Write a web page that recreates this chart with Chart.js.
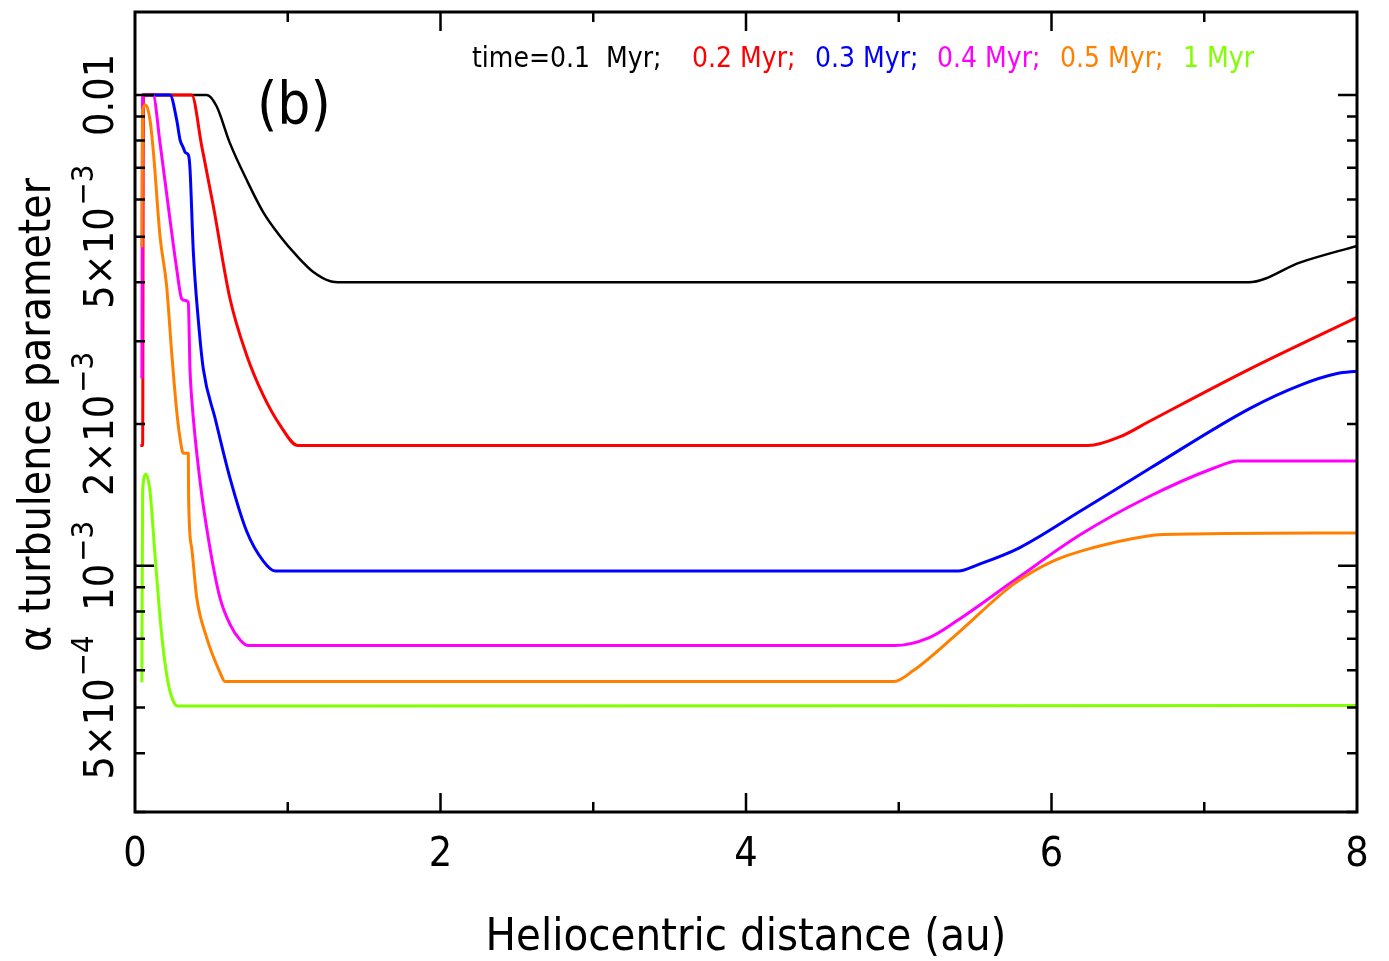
<!DOCTYPE html>
<html>
<head>
<meta charset="utf-8">
<script src="https://cdn.jsdelivr.net/npm/chart.js@4/dist/chart.umd.min.js"></script>
<style>
  body { margin: 0; background: #fff; }
  canvas { display: block; }
</style>
</head>
<body>
<canvas id="myChart" width="1389" height="961"></canvas>
<script>
// dados (x em au, y = alpha)
const series = ['time=0.1  Myr;', '0.2 Myr;', '0.3 Myr;', '0.4 Myr;', '0.5 Myr;', '1 Myr'];
const colors = ['#000000', '#ff0000', '#0000ff', '#ff00ff', '#ff8000', '#80ff00'];

const xBlack = [0.045, 0.47, 0.535, 0.62, 0.73, 0.84, 0.95, 1.06, 1.17, 1.28, 1.35, 7.29, 7.63, 8.0];
const yBlack = [0.01, 0.01, 9.45e-3, 7.92e-3, 6.61e-3, 5.63e-3, 5.01e-3, 4.55e-3, 4.2e-3, 4.02e-3, 4.0e-3, 4.0e-3, 4.41e-3, 4.78e-3];

const xRed = [0.035, 0.05, 0.055, 0.371, 0.437, 0.513, 0.622, 0.731, 0.84, 0.949, 1.067, 6.24, 6.45, 6.645, 7.30, 8.0];
const yRed = [1.8e-3, 1.8e-3, 0.01, 0.01, 7.78e-3, 5.8e-3, 3.69e-3, 2.8e-3, 2.3e-3, 1.99e-3, 1.8e-3, 1.8e-3, 1.88e-3, 2.03e-3, 2.62e-3, 3.37e-3];

const xBlue = [0.045, 0.229, 0.273, 0.295, 0.316, 0.33, 0.35, 0.36, 0.382, 0.414, 0.447, 0.524, 0.622, 0.731, 0.84, 0.917, 5.39, 5.52, 5.79, 6.19, 6.645, 7.30, 7.63, 7.87, 8.0];
const yBlue = [0.01, 0.01, 8.85e-3, 8.03e-3, 7.73e-3, 7.54e-3, 7.45e-3, 6.97e-3, 4.63e-3, 3.34e-3, 2.62e-3, 2.06e-3, 1.535e-3, 1.184e-3, 1.023e-3, 0.975e-3, 0.975e-3, 1.006e-3, 1.092e-3, 1.307e-3, 1.611e-3, 2.16e-3, 2.42e-3, 2.56e-3, 2.59e-3];

const xMagenta = [0.045, 0.05, 0.118, 0.164, 0.229, 0.273, 0.306, 0.33, 0.349, 0.36, 0.371, 0.426, 0.491, 0.556, 0.622, 0.69, 0.742, 4.97, 5.2, 5.38, 5.75, 6.19, 6.62, 7.06, 7.22, 8.0];
const yMagenta = [2.5e-3, 0.01, 0.01, 7.9e-3, 5.44e-3, 4.27e-3, 3.69e-3, 3.66e-3, 3.62e-3, 2.62e-3, 2.27e-3, 1.51e-3, 1.09e-3, 8.56e-4, 7.51e-4, 6.95e-4, 6.77e-4, 6.77e-4, 7.04e-4, 7.64e-4, 9.28e-4, 1.165e-3, 1.393e-3, 1.611e-3, 1.67e-3, 1.67e-3];

const xOrange = [0.045, 0.05, 0.07, 0.096, 0.12, 0.164, 0.207, 0.24, 0.273, 0.295, 0.316, 0.349, 0.351, 0.371, 0.404, 0.469, 0.556, 0.589, 4.97, 5.095, 5.38, 5.75, 6.01, 6.27, 6.62, 6.73, 8.0];
const yOrange = [4.75e-3, 9.3e-3, 9.52e-3, 8.94e-3, 7.6e-3, 5.0e-3, 3.93e-3, 2.84e-3, 2.13e-3, 1.865e-3, 1.734e-3, 1.734e-3, 1.39e-3, 1.092e-3, 8.56e-4, 7.04e-4, 5.94e-4, 5.68e-4, 5.68e-4, 5.99e-4, 7.16e-4, 9.13e-4, 1.023e-3, 1.092e-3, 1.156e-3, 1.165e-3, 1.174e-3];

const xGreen = [0.045, 0.05, 0.072, 0.098, 0.13, 0.17, 0.21, 0.245, 0.28, 8.0];
const yGreen = [5.66e-4, 1.45e-3, 1.565e-3, 1.44e-3, 1.065e-3, 7.39e-4, 5.8e-4, 5.21e-4, 5.04e-4, 5.05e-4];

// eixos
const xTickValues = [0, 2, 4, 6, 8];
const yTickValues = [5e-4, 1e-3, 2e-3, 5e-3, 0.01];
const yTickLabels = [['5×10', '−4'], ['10', '−3'], ['2×10', '−3'], ['5×10', '−3'], ['0.01', '']];
const xTitle = 'Heliocentric distance (au)';
const yTitle = 'α turbulence parameter';
const panelLabel = '(b)';

const allX = [xBlack, xRed, xBlue, xMagenta, xOrange, xGreen];
const allY = [yBlack, yRed, yBlue, yMagenta, yOrange, yGreen];

const FONT = '"DejaVu Sans Condensed", "DejaVu Sans", sans-serif';

function pontos(xs, ys) {
    return xs.map((x, i) => ({ x: x, y: ys[i] }));
}

// desenha eixos, marcas internas e textos no estilo PGPLOT
const molduraPlugin = {
    id: 'moldura',
    afterDraw(chart) {
        const ctx = chart.ctx;
        const a = chart.chartArea;
        const xs = chart.scales.x;
        const ys = chart.scales.y;
        ctx.save();
        ctx.strokeStyle = '#000';
        ctx.fillStyle = '#000';

        // marcas do eixo x (maiores nos pares)
        ctx.lineWidth = 2.5;
        for (let v = 1; v < 8; v++) {
            const px = xs.getPixelForValue(v);
            const len = v % 2 === 0 ? 19 : 10;
            ctx.beginPath();
            ctx.moveTo(px, a.bottom); ctx.lineTo(px, a.bottom - len);
            ctx.moveTo(px, a.top); ctx.lineTo(px, a.top + len);
            ctx.stroke();
        }
        // marcas do eixo y (log)
        for (let e = -4; e <= -2; e++) {
            for (let k = 1; k <= 9; k++) {
                const v = k * Math.pow(10, e);
                if (v < ys.min || v > ys.max) continue;
                const py = ys.getPixelForValue(v);
                const len = k === 1 ? 19 : 10;
                ctx.beginPath();
                ctx.moveTo(a.left, py); ctx.lineTo(a.left + len, py);
                ctx.moveTo(a.right, py); ctx.lineTo(a.right - len, py);
                ctx.stroke();
            }
        }
        // moldura
        ctx.lineWidth = 3;
        ctx.strokeRect(a.left, a.top, a.right - a.left, a.bottom - a.top);

        // rótulos do eixo x
        ctx.font = '41px ' + FONT;
        ctx.textAlign = 'center';
        ctx.textBaseline = 'alphabetic';
        xTickValues.forEach(v => {
            ctx.fillText(String(v), xs.getPixelForValue(v), 866);
        });
        ctx.font = '45px ' + FONT;
        ctx.fillText(xTitle, (a.left + a.right) / 2, 950);

        // rótulos do eixo y, girados
        const size = 41;
        yTickValues.forEach((v, i) => {
            const base = yTickLabels[i][0];
            const exp = yTickLabels[i][1];
            ctx.save();
            ctx.translate(113, ys.getPixelForValue(v));
            ctx.rotate(-Math.PI / 2);
            ctx.font = size + 'px ' + FONT;
            const w1 = ctx.measureText(base).width;
            ctx.font = (size * 0.75) + 'px ' + FONT;
            const w2 = exp ? ctx.measureText(exp).width + 2 : 0;
            const start = -(w1 + w2) / 2;
            ctx.textAlign = 'left';
            ctx.font = size + 'px ' + FONT;
            ctx.fillText(base, start, 0);
            if (exp) {
                ctx.font = (size * 0.75) + 'px ' + FONT;
                ctx.fillText(exp, start + w1 + 2, -size * 0.5);
            }
            ctx.restore();
        });
        ctx.save();
        ctx.translate(50, 415);
        ctx.rotate(-Math.PI / 2);
        ctx.textAlign = 'center';
        ctx.font = '44px ' + FONT;
        ctx.fillText(yTitle, 0, 0);
        ctx.restore();

        // legenda em texto colorido
        const starts = [472, 692, 815, 937, 1060, 1183];
        ctx.font = '28px ' + FONT;
        ctx.textAlign = 'left';
        series.forEach((s, i) => {
            ctx.fillStyle = colors[i];
            ctx.fillText(s, starts[i], 67);
        });

        ctx.fillStyle = '#000';
        ctx.font = '58px ' + FONT;
        ctx.fillText(panelLabel, 257, 124);
        ctx.restore();
    }
};

const ctx = document.getElementById('myChart').getContext('2d');
const myChart = new Chart(ctx, {
    type: 'line',
    data: {
        datasets: series.map((s, i) => ({
            label: s,
            data: pontos(allX[i], allY[i]),
            borderColor: colors[i],
            borderWidth: i === 0 ? 2.5 : 3,
            pointRadius: 0,
            cubicInterpolationMode: 'monotone',
            fill: false,
            order: 5 - i // séries mais tardias por cima
        }))
    },
    options: {
        responsive: false,
        animation: false,
        layout: {
            padding: { top: 12, right: 32, bottom: 0, left: 0 }
        },
        plugins: {
            legend: { display: false },
            tooltip: { enabled: false }
        },
        elements: {
            line: { borderJoinStyle: 'round' }
        },
        scales: {
            x: {
                type: 'linear',
                min: 0,
                max: 8,
                grid: { display: false },
                border: { display: false },
                ticks: { display: false },
                afterFit: (s) => { s.height = 149; }
            },
            y: {
                type: 'logarithmic',
                min: 3.05e-4,
                max: 0.015,
                grid: { display: false },
                border: { display: false },
                ticks: { display: false },
                afterFit: (s) => { s.width = 135; }
            }
        }
    },
    plugins: [molduraPlugin]
});
</script>
</body>
</html>
